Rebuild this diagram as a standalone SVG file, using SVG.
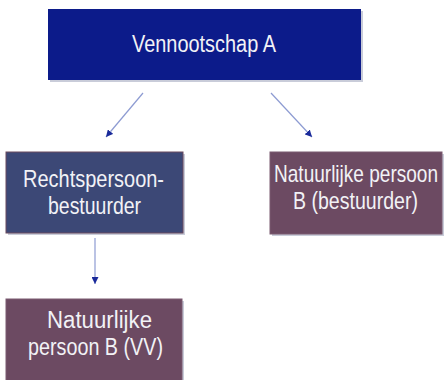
<svg xmlns="http://www.w3.org/2000/svg" width="446" height="380" viewBox="0 0 446 380">
<defs>
<marker id="ah" viewBox="0 0 10 10" refX="10" refY="5" markerWidth="7" markerHeight="7" orient="auto" markerUnits="userSpaceOnUse">
<path d="M0,0 L10,5 L0,10 z" fill="#1a2a9a"/>
</marker>
</defs>
<style>
text{font-family:"Liberation Sans",Arial,sans-serif;font-size:23.5px;fill:#f2f2f6;text-anchor:middle}
.sh{fill:#c9ccd9}
.blue{fill:#0c1b8a}
.slate{fill:#3c4876;stroke:#6a4a5e;stroke-width:1}
.plum{fill:#6c4a62;stroke:#7a5a70;stroke-width:1}
.conn line{stroke:#8d9bd2;stroke-width:1.2;marker-end:url(#ah)}
</style>
<rect width="446" height="380" fill="#ffffff"/>
<g id="vennootschap-a">
<rect class="sh" x="50" y="11" width="313" height="71"/>
<rect class="blue" x="48" y="9" width="313" height="71"/>
<text x="204" y="52" textLength="144" lengthAdjust="spacingAndGlyphs">Vennootschap A</text>
</g>
<g id="rechtspersoon">
<rect class="sh" x="8" y="154" width="177" height="81"/>
<rect class="slate" x="6" y="152" width="177" height="81"/>
<text x="93.5" y="187" textLength="141" lengthAdjust="spacingAndGlyphs">Rechtspersoon-</text>
<text x="94.5" y="214" textLength="93" lengthAdjust="spacingAndGlyphs">bestuurder</text>
</g>
<g id="natuurlijke-bestuurder">
<rect class="sh" x="272" y="154" width="172" height="82"/>
<rect class="plum" x="270" y="152" width="172" height="82"/>
<text transform="translate(356,181.5) scale(1,1.2)" x="0" y="0" style="font-size:19.5px" textLength="164" lengthAdjust="spacingAndGlyphs">Natuurlijke persoon</text>
<text x="355.5" y="208.5" textLength="125" lengthAdjust="spacingAndGlyphs">B (bestuurder)</text>
</g>
<g id="natuurlijke-vv">
<rect class="sh" x="8" y="301" width="176" height="81"/>
<rect class="plum" x="6" y="299" width="176" height="83"/>
<text x="99.5" y="328" textLength="105" lengthAdjust="spacingAndGlyphs">Natuurlijke</text>
<text x="95.5" y="355" textLength="135" lengthAdjust="spacingAndGlyphs">persoon B (VV)</text>
</g>
<g id="connectors" class="conn">
<line x1="143" y1="93" x2="106" y2="137"/>
<line x1="271" y1="93" x2="312" y2="137"/>
<line x1="95" y1="238" x2="95" y2="284"/>
</g>
</svg>
